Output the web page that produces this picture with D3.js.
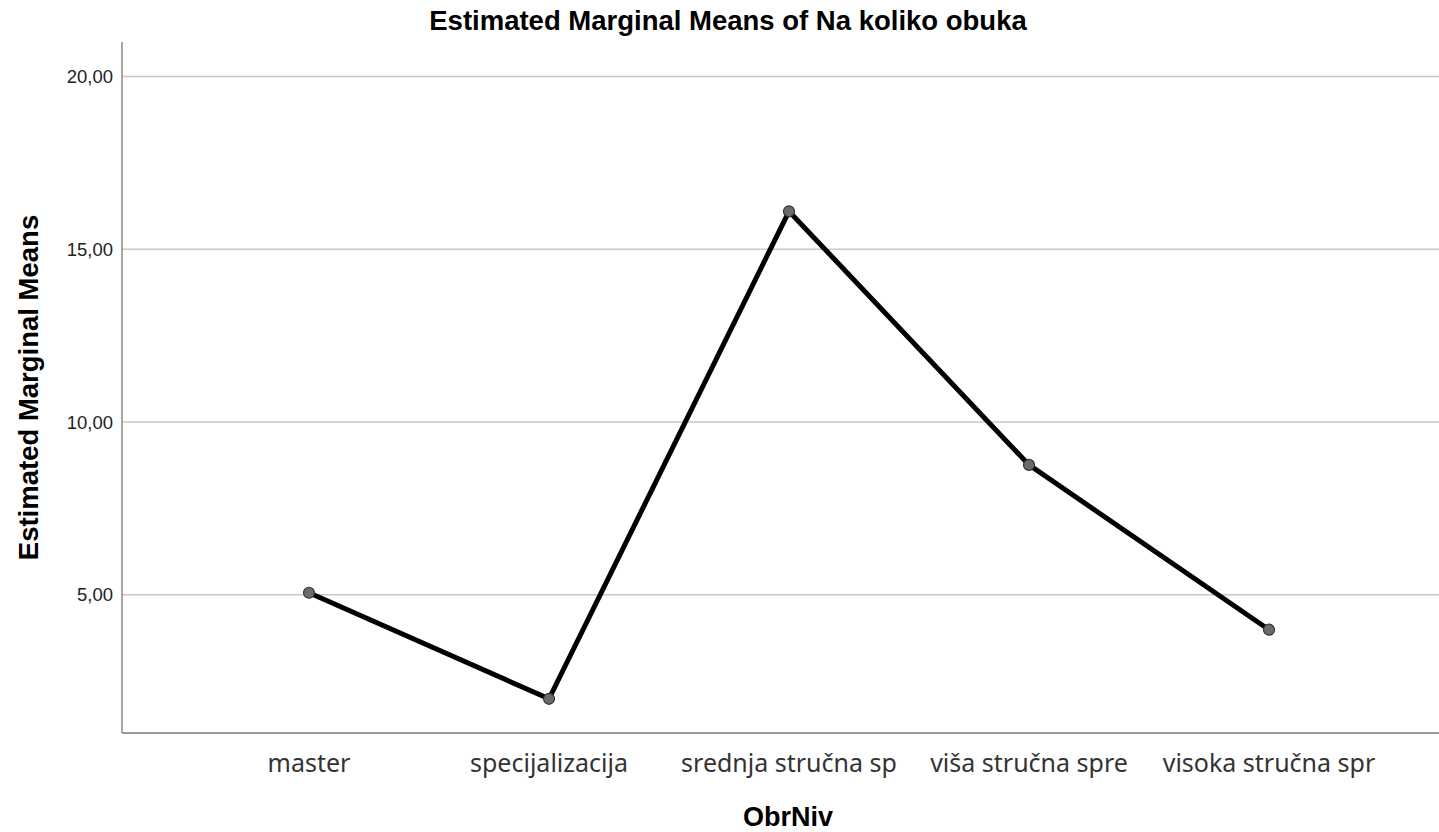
<!DOCTYPE html>
<html>
<head>
<meta charset="utf-8">
<script src="https://cdn.jsdelivr.net/npm/d3@7"></script>
<style>
  body { margin: 0; background: #fff; }
  svg { display: block; }
</style>
</head>
<body>
<svg id="chart" width="1439" height="832"></svg>
<script>
// Estimated marginal means per education level
const categories = ["master", "specijalizacija", "srednja stručna sp", "viša stručna spre", "visoka stručna spr"];
const means = [5.06, 1.99, 16.1, 8.76, 3.99];
const yTicks = [5, 10, 15, 20];

const width = 1439, height = 832;
const m = { top: 42, right: 0, bottom: 99, left: 122 };

const svg = d3.select("#chart");

const x = d3.scalePoint()
    .domain(categories)
    .range([309, 1269]);

const y = d3.scaleLinear()
    .domain([1, 21])
    .range([height - m.bottom, m.top]);

const fmt = d => d3.format(".2f")(d).replace(".", ",");

// gridlines
svg.append("g")
    .selectAll("line")
    .data(yTicks)
    .join("line")
    .attr("x1", m.left)
    .attr("x2", width)
    .attr("y1", d => y(d))
    .attr("y2", d => y(d))
    .attr("stroke", "#c8c8c8")
    .attr("stroke-width", 1.5);

// y tick labels
svg.append("g")
    .selectAll("text")
    .data(yTicks)
    .join("text")
    .attr("x", m.left - 9)
    .attr("y", d => y(d))
    .attr("dy", "0.35em")
    .attr("text-anchor", "end")
    .style("font", "18.5px 'Liberation Sans', Arial, sans-serif")
    .attr("fill", "#222")
    .text(fmt);

// axes lines
svg.append("line")
    .attr("x1", m.left).attr("x2", m.left)
    .attr("y1", m.top).attr("y2", height - m.bottom)
    .attr("stroke", "#888").attr("stroke-width", 1.5);
svg.append("line")
    .attr("x1", m.left).attr("x2", width)
    .attr("y1", height - m.bottom).attr("y2", height - m.bottom)
    .attr("stroke", "#777").attr("stroke-width", 1.5);

// x category labels
svg.append("g")
    .selectAll("text")
    .data(categories)
    .join("text")
    .attr("x", d => x(d))
    .attr("y", height - m.bottom + 30)
    .attr("dy", "0.35em")
    .attr("text-anchor", "middle")
    .style("font", "25px 'Noto Sans', sans-serif")
    .attr("fill", "#333")
    .text(d => d);

// line
const line = d3.line()
    .x((d, i) => x(categories[i]))
    .y(d => y(d));

svg.append("path")
    .datum(means)
    .attr("d", line)
    .attr("fill", "none")
    .attr("stroke", "#000")
    .attr("stroke-width", 5)
    .attr("stroke-linejoin", "miter");

svg.append("g")
    .selectAll("circle")
    .data(means)
    .join("circle")
    .attr("cx", (d, i) => x(categories[i]))
    .attr("cy", d => y(d))
    .attr("r", 5.5)
    .attr("fill", "#6b6b6b")
    .attr("stroke", "#333")
    .attr("stroke-width", 1.2);

// titles
svg.append("text")
    .attr("x", 728)
    .attr("y", 20)
    .attr("dy", "0.35em")
    .attr("text-anchor", "middle")
    .style("font", "bold 27.5px 'Liberation Sans', Arial, sans-serif")
    .text("Estimated Marginal Means of Na koliko obuka");

svg.append("text")
    .attr("x", 788)
    .attr("y", 817)
    .attr("dy", "0.35em")
    .attr("text-anchor", "middle")
    .style("font", "bold 27px 'Liberation Sans', Arial, sans-serif")
    .text("ObrNiv");

svg.append("text")
    .attr("transform", `translate(28,${(m.top + height - m.bottom) / 2}) rotate(-90)`)
    .attr("dy", "0.35em")
    .attr("text-anchor", "middle")
    .style("font", "bold 27.5px 'Liberation Sans', Arial, sans-serif")
    .text("Estimated Marginal Means");
</script>
</body>
</html>
